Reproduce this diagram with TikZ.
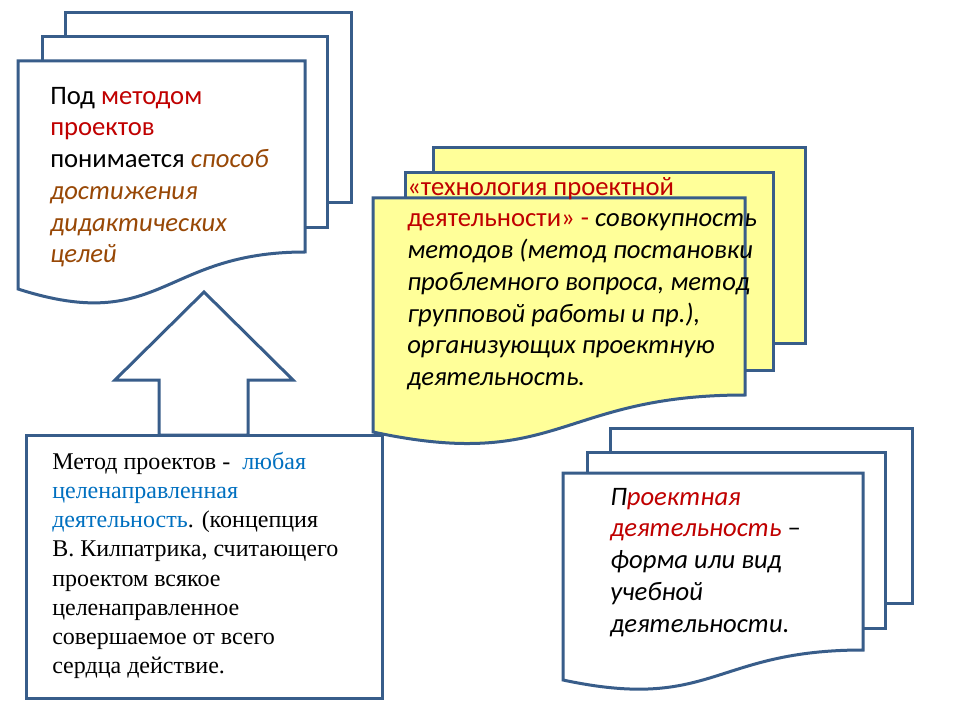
\documentclass[tikz,border=0pt]{standalone}
\usepackage{fontspec}
\setmainfont{Carlito}
\newfontfamily\timesfont{Liberation Serif}
\definecolor{lineblue}{HTML}{385D8A}
\definecolor{darkred}{HTML}{C00000}
\definecolor{brownish}{HTML}{984806}
\definecolor{textblue}{HTML}{0070C0}
\definecolor{paleyellow}{HTML}{FFFF99}
\begin{document}
\begin{tikzpicture}[x=0.75pt,y=-0.75pt,
  page/.style={draw=lineblue, line width=2.25pt, line join=miter},
  whitepage/.style={page, fill=white},
  yellowpage/.style={page, fill=paleyellow},
  cal/.style={anchor=north west, inner sep=0pt, align=left, font=\fontsize{20}{23.8}\selectfont},
  tnr/.style={anchor=north west, inner sep=0pt, align=left, font=\timesfont\fontsize{18}{21.9}\selectfont}]
\fill[white] (0,0) rectangle (960,720);
\useasboundingbox (0,0) rectangle (960,720);

% top-left multidocument
\draw[whitepage] (65,13) rectangle (351,203);
\draw[whitepage] (42,37) rectangle (327,228);
\draw[whitepage] (18,61) -- (305,61) -- (305,252) .. controls (161.5,252) and (161.5,335) .. (18,289) -- cycle;

% yellow multidocument
\draw[yellowpage] (433,148) rectangle (805,343);
\draw[yellowpage] (405,173) rectangle (773,370);
\draw[yellowpage] (373,198) -- (745,198) -- (745,395) .. controls (559,395) and (559,472) .. (373,432) -- cycle;

% up arrow and bottom-left box
\draw[whitepage] (204,292) -- (293,380) -- (248,380) -- (248,435) -- (159,435) -- (159,380) -- (115,380) -- cycle;
\draw[whitepage] (26,435) rectangle (382,698);

% bottom-right multidocument
\draw[whitepage] (610,428) rectangle (912,603);
\draw[whitepage] (587,452) rectangle (885,628);
\draw[whitepage] (563,473) -- (863,473) -- (863,650) .. controls (713,650) and (713,712) .. (563,680) -- cycle;

% texts
\node[cal] (tltext) at (50,81.6) {\strut Под {\color{darkred}методом}\\
{\color{darkred}проектов}\\
понимается {\color{brownish}\itshape способ}\\
{\color{brownish}\itshape достижения}\\
{\color{brownish}\itshape дидактических}\\
{\color{brownish}\itshape целей}};

\node[cal] (ytext) at (407,172.6) {\strut{\color{darkred}«технология проектной}\\
{\color{darkred}деятельности» -} {\itshape совокупность}\\
{\itshape методов (метод постановки}\\
{\itshape проблемного вопроса, метод}\\
{\itshape групповой работы и пр.),}\\
{\itshape организующих проектную}\\
{\itshape деятельность.}};

\node[tnr] (bltext) at (52,448.6) {\strut Метод проектов -\ \ {\color{textblue}любая}\\
{\color{textblue}целенаправленная}\\
{\color{textblue}деятельность}. (концепция\\
В. Килпатрика, считающего\\
проектом всякое\\
целенаправленное\\
совершаемое от всего\\
сердца действие.};

\node[cal] (brtext) at (610,482.6) {\strut{\itshape П}{\color{darkred}\itshape роектная}\\
{\color{darkred}\itshape деятельность} –\\
{\itshape форма или вид}\\
{\itshape учебной}\\
{\itshape деятельности.}};
\end{tikzpicture}
\end{document}
